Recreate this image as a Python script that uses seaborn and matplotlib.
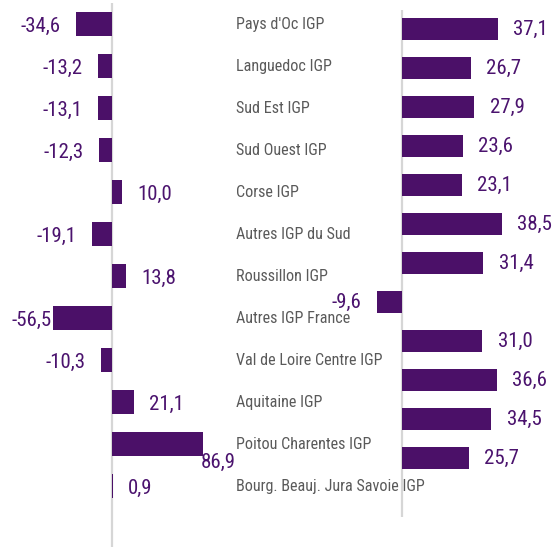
import matplotlib
matplotlib.use("Agg")
import matplotlib.pyplot as plt
import seaborn as sns
import pandas as pd
from matplotlib.font_manager import fontManager

categories = ["Pays d'Oc IGP", "Languedoc IGP", "Sud Est IGP", "Sud Ouest IGP",
              "Corse IGP", "Autres IGP du Sud", "Roussillon IGP", "Autres IGP France",
              "Val de Loire Centre IGP", "Aquitaine IGP", "Poitou Charentes IGP",
              "Bourg. Beauj. Jura Savoie IGP"]
left_values = [-34.6, -13.2, -13.1, -12.3, 10.0, -19.1, 13.8, -56.5, -10.3, 21.1, 86.9, 0.9]
right_values = [37.1, 26.7, 27.9, 23.6, 23.1, 38.5, 31.4, -9.6, 31.0, 36.6, 34.5, 25.7]

sns.set_theme(style="white")
names = {f.name for f in fontManager.ttflist}
fam = [f for f in ["Roboto Condensed", "Roboto", "DejaVu Sans"] if f in names]
plt.rcParams["font.family"] = fam

PURPLE = "#4b1068"
LABEL_PURPLE = "#4b136e"
GRAY = "#5a5a5a"
LINE = "#d6d6d6"

W, H = 553, 547
fig = plt.figure(figsize=(W / 100, H / 100), dpi=100)
fig.patch.set_facecolor("white")

# left panel: x 0..236 px, y 3..549 px from top (13 bands of 42 px)
axL = fig.add_axes([0, (H - 549) / H, 236 / W, 546 / H])
# right panel: x 236..553 px, y 9..517 px from top (13 bands of 39 px)
axR = fig.add_axes([236 / W, (H - 516.5) / H, (W - 236) / W, 507 / H])

dfL = pd.DataFrame({"cat": categories, "val": left_values})
dfR = pd.DataFrame({"cat": categories, "val": right_values})

sns.barplot(data=dfL, x="val", y="cat", orient="h", color=PURPLE, saturation=1,
            width=0.57, linewidth=0, ax=axL)
sns.barplot(data=dfR, x="val", y="cat", orient="h", color=PURPLE, saturation=1,
            width=0.565, linewidth=0, ax=axR)

axL.set_xlim(-112 / 1.05, (236 - 112) / 1.05)
axR.set_xlim(-(402 - 236) / 2.59, (553 - 402) / 2.59)
for ax in (axL, axR):
    ax.set_ylim(12.5, -0.5)
    ax.axvline(0, color=LINE, lw=1.6, zorder=0)
    ax.set_axis_off()

val_font = dict(fontsize=15, color=LABEL_PURPLE)


def fmt(v):
    return f"{v:.1f}".replace(".", ",")


texts = []
for ax, vals, adjust, dy in ((axL, left_values, True, -2.0), (axR, right_values, False, -0.5)):
    for i, v in enumerate(vals):
        off = 11 if v >= 0 else -11
        t = ax.annotate(fmt(v), xy=(v, i), xytext=(off, dy), textcoords="offset points",
                        ha="left" if v >= 0 else "right", va="center",
                        annotation_clip=False, **val_font)
        texts.append((ax, t, v, i, adjust, dy))

for i, c in enumerate(categories):
    axL.text(1.0, i + 0.02, c, transform=axL.get_yaxis_transform(), ha="left",
             va="center", fontsize=11.6, color=GRAY, clip_on=False)

fig.canvas.draw()
r = fig.canvas.get_renderer()
for ax, t, v, i, adjust, dy in texts:
    if not adjust:
        continue
    bb = t.get_window_extent(r)
    abb = ax.get_window_extent(r)
    if bb.x1 > abb.x1 + 1:
        t.remove()
        ax.annotate(fmt(v), xy=(ax.get_xlim()[1], i + 0.2), xytext=(0, 0),
                    textcoords="offset points", ha="right", va="top",
                    annotation_clip=False, **val_font)
    elif bb.x0 < abb.x0:
        t.set_position((-1, dy))

fig.savefig("out.png", dpi=100, facecolor="white")
